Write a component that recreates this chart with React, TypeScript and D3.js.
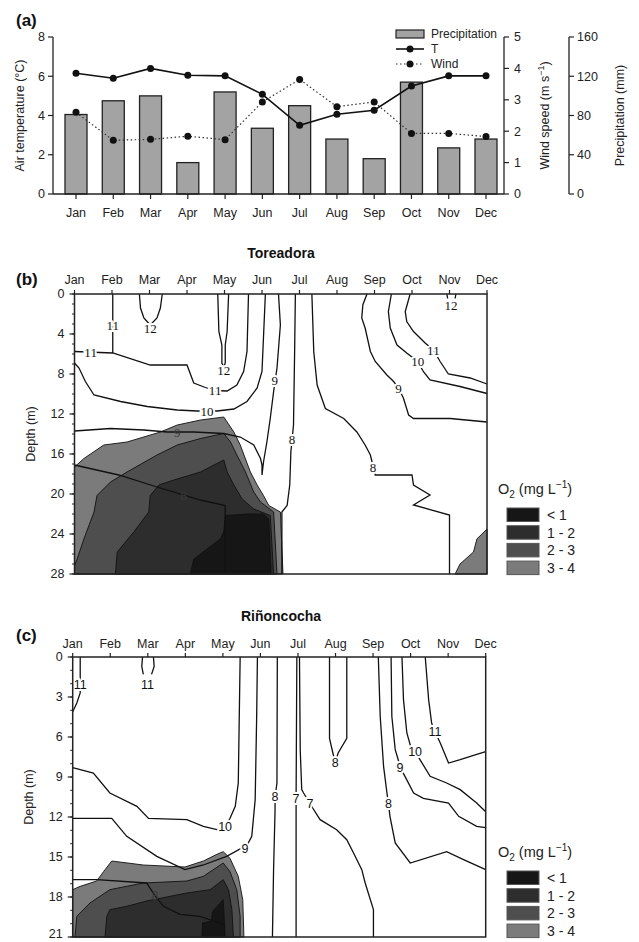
import React from 'react';
import * as d3 from 'd3';

type Pt = [number, number];

// ---- panel (a) data ----
const months = ['Jan', 'Feb', 'Mar', 'Apr', 'May', 'Jun', 'Jul', 'Aug', 'Sep', 'Oct', 'Nov', 'Dec'];
const precipitation = [81, 95, 100, 32, 104, 67, 90, 56, 36, 114, 47, 56];
const temperature = [6.15, 5.9, 6.4, 6.05, 6.02, 5.08, 3.5, 4.06, 4.27, 5.5, 6.02, 6.02];
const windSpeed = [2.6, 1.71, 1.74, 1.84, 1.73, 2.93, 3.65, 2.78, 2.93, 1.93, 1.93, 1.83];
const tempTicks = [0, 2, 4, 6, 8];
const windTicks = [0, 1, 2, 3, 4, 5];
const precipTicks = [0, 40, 80, 120, 160];

// ---- O2 classes ----
const o2Classes = ['< 1', '1 - 2', '2 - 3', '3 - 4'];
const o2Colors = ['#161616', '#2d2d2d', '#4e4e4e', '#7b7b7b'];

// ---- panel (b) Toreadora: [month index, depth m] ----
const toreDepthTicks = [0, 4, 8, 12, 16, 20, 24, 28];
const toreFill34: Pt[] = [[0, 17.3], [0.25, 16.45], [0.78, 15.1], [1.4, 14.8], [2.29, 13.8], [2.74, 13.1], [3.36, 12.6], [3.98, 12.3], [4.25, 13.8], [4.42, 15.1], [4.69, 17.8], [4.87, 19.1], [5.04, 20.15], [5.18, 21.15], [5.49, 21.8], [5.56, 28], [0, 28]];
const toreFill23: Pt[] = [[0, 28], [0, 27.2], [0.07, 26.5], [0.25, 24.5], [0.52, 21.8], [0.6, 20.15], [0.96, 18.8], [1.4, 17.8], [2.2, 16.1], [2.74, 15.1], [3.36, 14.45], [3.98, 13.95], [4.16, 14.8], [4.33, 16.1], [4.56, 17.8], [4.78, 19.8], [4.96, 20.8], [5.31, 21.8], [5.4, 28]];
const toreFill12: Pt[] = [[1.09, 28], [1.14, 25.8], [1.58, 23.8], [1.98, 21.8], [2.02, 20.15], [2.25, 19.1], [2.65, 18.6], [3.36, 17.8], [3.98, 16.6], [4.07, 17.8], [4.25, 19.1], [4.47, 20.5], [4.78, 21.5], [5.22, 22.15], [5.31, 28]];
const toreFill01: Pt[] = [[3.09, 28], [3.18, 26.5], [3.53, 25.5], [3.89, 24.5], [3.98, 23.8], [4.02, 22.15], [4.6, 22.0], [5.04, 22.0], [5.18, 22.5], [5.24, 28]];
const toreFillDec: Pt[] = [[10.15, 28], [10.28, 27.0], [10.64, 25.8], [10.73, 24.5], [11, 23.5], [11, 28]];

const toreIso11a: Pt[] = [[1.02, 0], [1.02, 5.9]];
const toreIso11b: Pt[] = [[0, 5.75], [1.02, 5.9], [2.02, 7.1], [3.0, 7.1], [3.18, 8.9], [3.49, 9.35], [3.75, 9.65], [4.07, 9.7], [4.33, 9.1], [4.51, 7.75], [4.6, 5.75], [4.64, 0]];
const toreIso12mar: Pt[] = [[1.73, 0], [1.76, 1.4], [1.85, 2.4], [2.02, 3.1], [2.2, 2.4], [2.29, 1.4], [2.34, 0]];
const toreIso12may: Pt[] = [[3.82, 0], [3.85, 3.75], [3.93, 5.1], [3.93, 6.9], [3.98, 7.3], [4.02, 6.9], [4.02, 5.1], [4.07, 3.75], [4.11, 0]];
const toreIso10: Pt[] = [[0, 6.9], [0.12, 7.4], [0.29, 8.75], [0.52, 10.1], [1.23, 10.75], [1.94, 11.25], [2.74, 11.6], [3.27, 11.7], [3.8, 11.7], [4.25, 11.5], [4.6, 10.75], [4.87, 9.4], [5.0, 7.75], [5.09, 0]];
const toreIso9: Pt[] = [[0, 13.7], [0.96, 13.45], [1.85, 13.6], [2.47, 13.8], [3.18, 13.8], [3.98, 13.95], [4.42, 14.3], [4.78, 15.1], [4.96, 16.45], [5.0, 17.1], [5.0, 18.1], [5.04, 16.8], [5.13, 14.8], [5.22, 12.45], [5.31, 9.75], [5.4, 7.4], [5.49, 3.1], [5.44, 0]];
const toreIso8a: Pt[] = [[5.89, 0], [5.87, 5.75], [5.84, 13.1], [5.77, 15.8], [5.74, 19.1], [5.67, 21.15], [5.53, 21.8], [5.53, 28]];
const toreIso8b: Pt[] = [[6.33, 0], [6.38, 5.75], [6.47, 9.1], [6.69, 11.45], [7.18, 12.45], [7.53, 13.8], [7.75, 15.1], [7.89, 16.1], [8.02, 18.1], [9.0, 18.1], [9.04, 19.1], [9.48, 20.1], [9.04, 21.1], [10.0, 22.1], [10.0, 28]];
const toreIso8c: Pt[] = [[0, 17.1], [1.18, 18.1], [2.2, 19.3], [3.36, 20.6], [4.02, 21.15], [4.02, 28]];
const toreIso12novA: Pt[] = [[9.93, 0], [9.95, 0.45]];
const toreIso12novB: Pt[] = [[10.15, 0.45], [10.17, 0]];
const toreIso11r: Pt[] = [[8.95, 0], [8.82, 1.75], [8.86, 2.75], [9.04, 3.75], [9.35, 4.9], [9.57, 5.6], [9.75, 6.75], [9.97, 8.0], [10.55, 8.4], [11, 9.0]];
const toreIso10r: Pt[] = [[8.45, 0], [8.37, 1.75], [8.42, 3.4], [8.6, 5.1], [8.86, 5.9], [9.15, 6.75], [9.31, 7.8], [9.48, 8.6], [10.28, 9.25], [11, 9.95]];
const toreIso9r: Pt[] = [[7.8, 0], [7.69, 1.07], [7.66, 2.4], [7.75, 3.4], [7.89, 5.75], [8.02, 6.75], [8.33, 8.1], [8.51, 8.75], [8.64, 9.4], [8.77, 10.4], [8.91, 12.1], [9.04, 12.45], [10.02, 12.45], [11, 12.8]];

// label: [month, depth, text, halo]
const toreLabels: [number, number, string, boolean][] = [
  [1.02, 3.1, '11', true], [0.43, 5.85, '11', true], [3.75, 9.65, '11', true],
  [2.02, 3.4, '12', true], [3.98, 7.6, '12', true], [3.53, 11.7, '10', true],
  [2.74, 13.8, '9', false], [5.34, 8.6, '9', true], [5.8, 14.5, '8', true],
  [7.96, 17.3, '8', true], [2.91, 20.1, '8', false], [10.04, 1.1, '12', true],
  [9.57, 5.6, '11', true], [9.15, 6.75, '10', true], [8.64, 9.4, '9', true],
];

// ---- panel (c) Riñoncocha ----
const rinoDepthTicks = [0, 3, 6, 9, 12, 15, 18, 21];
const rinoFill34: Pt[] = [[0, 17.45], [0.2, 17.2], [0.64, 16.8], [0.82, 16.1], [1.04, 15.3], [1.88, 15.6], [2.99, 15.75], [3.48, 15.3], [3.84, 14.8], [4.01, 14.6], [4.19, 15.1], [4.41, 16.45], [4.53, 18.2], [4.56, 21], [0, 21]];
const rinoFill23: Pt[] = [[0.06, 21], [0.11, 19.45], [0.46, 18.45], [0.99, 17.45], [1.88, 16.95], [3.04, 16.8], [3.48, 16.45], [4.01, 15.45], [4.19, 16.1], [4.37, 17.45], [4.46, 19.45], [4.46, 21]];
const rinoFill12: Pt[] = [[0.86, 21], [0.91, 19.45], [0.99, 18.95], [1.44, 18.7], [1.97, 18.3], [3.04, 17.7], [3.66, 17.45], [4.01, 16.7], [4.15, 17.45], [4.24, 18.95], [4.28, 21]];
const rinoFill01: Pt[] = [[3.44, 21], [3.46, 19.95], [3.7, 19.8], [3.72, 19.1], [4.01, 18.2], [4.06, 21]];

const rinoIso11jan: Pt[] = [[0.2, 0], [0.2, 2.7], [0.11, 3.45], [0, 4.1]];
const rinoIso11marA: Pt[] = [[1.86, 0], [1.84, 0.7], [1.88, 1.3]];
const rinoIso11marB: Pt[] = [[2.15, 0], [2.17, 0.7], [2.1, 1.3]];
const rinoIso10: Pt[] = [[0, 8.3], [0.55, 8.7], [0.99, 10.2], [1.71, 11.2], [2.02, 12.1], [3.04, 12.2], [3.48, 12.7], [3.84, 12.95], [4.06, 12.75], [4.19, 12.1], [4.33, 11.2], [4.41, 9.45], [4.46, 0]];
const rinoIso9: Pt[] = [[0, 12.1], [1.04, 12.1], [1.44, 13.45], [2.24, 14.95], [2.99, 15.95], [3.48, 15.6], [4.1, 14.95], [4.46, 14.4], [4.59, 14.4], [4.77, 13.45], [4.86, 10.7], [4.9, 4.45], [4.92, 0]];
const rinoIso8: Pt[] = [[5.45, 0], [5.44, 9.45], [5.39, 10.5], [5.39, 11.45], [5.35, 15.95], [5.32, 21]];
const rinoIso7a: Pt[] = [[5.97, 0], [5.95, 10.6], [5.95, 21]];
const rinoIso7b: Pt[] = [[6.04, 0], [6.06, 6.95], [6.1, 9.95], [6.15, 10.2], [6.34, 11.1], [6.59, 12.2], [7.03, 12.95], [7.3, 13.7], [7.48, 14.7], [7.7, 15.95], [7.79, 16.95], [8.01, 18.95], [8.01, 21]];
const rinoIso8aug: Pt[] = [[6.84, 0], [6.84, 6.1], [6.93, 7.2], [6.99, 7.9], [7.07, 7.2], [7.3, 6.1], [7.3, 0]];
const rinoIso8r: Pt[] = [[8.14, 0], [8.19, 4.45], [8.28, 8.2], [8.37, 10.2], [8.41, 11.0], [8.45, 11.95], [8.59, 13.95], [8.99, 15.45], [9.96, 14.6], [10.41, 15.2], [11, 15.95]];
const rinoIso9r: Pt[] = [[8.48, 0], [8.5, 4.45], [8.59, 6.95], [8.68, 7.8], [8.72, 8.3], [8.85, 8.95], [9.08, 10.2], [9.34, 10.6], [10.01, 10.95], [10.28, 11.95], [10.76, 12.7], [11, 12.8]];
const rinoIso10r: Pt[] = [[8.77, 0], [8.81, 3.2], [8.9, 5.7], [8.99, 6.6], [9.12, 7.1], [9.25, 7.7], [9.52, 8.95], [9.96, 9.45], [10.32, 9.95], [10.76, 10.95], [11, 11.6]];
const rinoIso11r: Pt[] = [[9.39, 0], [9.48, 3.2], [9.56, 4.95], [9.65, 5.6], [9.79, 6.45], [10.01, 7.95], [10.32, 7.7], [10.76, 7.3], [11, 7.1]];
const rinoIso8c: Pt[] = [[0, 16.7], [0.64, 16.7], [1.97, 16.95], [2.19, 17.9], [2.42, 18.7], [2.86, 19.3], [3.39, 19.45], [4.06, 20.1]];

const rinoLabels: [number, number, string, boolean][] = [
  [0.2, 2.1, '11', true], [1.99, 2.1, '11', true], [4.06, 12.75, '10', true],
  [4.59, 14.4, '9', true], [5.39, 10.5, '8', true], [5.95, 10.6, '7', true],
  [6.32, 11.0, '7', true], [6.99, 7.95, '8', true], [8.41, 11.0, '8', true],
  [8.72, 8.3, '9', true], [9.12, 7.1, '10', true], [9.65, 5.6, '11', true],
  [2.19, 17.9, '8', false],
];

const sans = 'Liberation Sans, Arial, sans-serif';
const serif = 'Liberation Serif, Times New Roman, serif';

function ContourPanel({ x, y, depthTicks, depthMax, fills, lines, labels, labelFont, labelSize, monthY }: any) {
  const line = d3.line<Pt>().x(d => x(d[0])).y(d => y(d[1]));
  const x0 = x(0), x1 = x(11), y0 = y(0), y1 = y(depthMax);
  const minor = d3.range(0, depthMax + 1);
  const fillColor = (i: number) => (i >= 4 ? o2Colors[3] : o2Colors[3 - i]);
  return (
    <g>
      {fills.map((f: Pt[], i: number) => (
        <path key={'f' + i} d={line(f) + 'Z'} fill={fillColor(i)} stroke="#111" strokeWidth={0.9} />
      ))}
      {lines.map((l: Pt[], i: number) => (
        <path key={'l' + i} d={line(l)!} fill="none" stroke="#111" strokeWidth={1.3} />
      ))}
      {labels.filter((l: any) => l[3]).map((l: [number, number, string, boolean], i: number) => (
        <text key={'h' + i} x={x(l[0])} y={y(l[1])} dy="0.35em" textAnchor="middle"
          fontFamily={labelFont} fontSize={labelSize} fill="#fff" stroke="#fff" strokeWidth={4}>{l[2]}</text>
      ))}
      {labels.map((l: [number, number, string, boolean], i: number) => (
        <text key={'t' + i} x={x(l[0])} y={y(l[1])} dy="0.35em" textAnchor="middle"
          fontFamily={labelFont} fontSize={labelSize} fill={l[3] ? '#111' : '#3a3a3a'}>{l[2]}</text>
      ))}
      <rect x={x0} y={y0} width={x1 - x0} height={y1 - y0} fill="none" stroke="#222" strokeWidth={1.5} />
      {months.map((m, i) => (
        <g key={m}>
          <line x1={x(i)} x2={x(i)} y1={y0} y2={y0 - 4} stroke="#222" strokeWidth={1.2} />
          <text x={x(i)} y={y0 - monthY} textAnchor="middle" fontFamily={sans} fontSize={12.5} fill="#222">{m}</text>
        </g>
      ))}
      {minor.map(d => (
        <line key={'m' + d} x1={x0} x2={x0 - 2.5} y1={y(d)} y2={y(d)} stroke="#222" strokeWidth={1} />
      ))}
      {depthTicks.map((d: number) => (
        <g key={'d' + d}>
          <line x1={x0} x2={x0 - 5} y1={y(d)} y2={y(d)} stroke="#222" strokeWidth={1.2} />
          <text x={x0 - 10} y={Math.min(y(d), 934)} dy="0.35em" textAnchor="end" fontFamily={sans} fontSize={12.5} fill="#222">{d}</text>
        </g>
      ))}
      <text transform={`translate(${x0 - 40},${(y0 + y1) / 2}) rotate(-90)`} textAnchor="middle" fontFamily={sans} fontSize={12.5} fill="#222">Depth (m)</text>
    </g>
  );
}

function O2Legend({ x, y }: { x: number; y: number }) {
  return (
    <g fontFamily={sans} fill="#222">
      <text x={x} y={y} fontSize={14.5}>O<tspan dy={4} fontSize={10}>2</tspan><tspan dy={-4}> (mg L</tspan><tspan dy={-6} fontSize={10}>−1</tspan><tspan dy={6}>)</tspan></text>
      {o2Classes.map((c, i) => (
        <g key={c}>
          <rect x={x + 9} y={y + 14 + i * 17.7} width={32} height={13.5} fill={o2Colors[i]} stroke="#555" strokeWidth={1} />
          <text x={x + 49} y={y + 26 + i * 17.7} fontSize={14}>{c}</text>
        </g>
      ))}
    </g>
  );
}

export default function App() {
  const xA = d3.scaleLinear().domain([0, 11]).range([76, 486]);
  const yT = d3.scaleLinear().domain([0, 8]).range([194, 37]);
  const yW = d3.scaleLinear().domain([0, 5]).range([194, 37]);
  const yP = d3.scaleLinear().domain([0, 160]).range([194, 37]);
  const tLine = d3.line<number>().x((_, i) => xA(i)).y(d => yT(d));
  const wLine = d3.line<number>().x((_, i) => xA(i)).y(d => yW(d));
  const left = 53, right = 504, precipAxis = 569, base = yT(0);

  const xB = d3.scaleLinear().domain([0, 11]).range([74.5, 487]);
  const yB = d3.scaleLinear().domain([0, 28]).range([294, 574]);
  const xC = d3.scaleLinear().domain([0, 11]).range([72.7, 485.7]);
  const yC = d3.scaleLinear().domain([0, 21]).range([657, 937]);

  return (
    <svg width={639} height={942} style={{ position: 'absolute', left: 0, top: 0, background: '#fff' }}>
      {/* panel a */}
      <text x={16} y={26} fontFamily={sans} fontWeight="bold" fontSize={17} fill="#111">(a)</text>
      {precipitation.map((p, i) => (
        <rect key={i} x={xA(i) - 11} y={yP(p)} width={22} height={base - yP(p)} fill="#a3a3a3" stroke="#222" strokeWidth={1.3} />
      ))}
      <path d={wLine(windSpeed)!} fill="none" stroke="#333" strokeWidth={1.2} strokeDasharray="1.5,2.5" />
      <path d={tLine(temperature)!} fill="none" stroke="#111" strokeWidth={1.6} />
      {windSpeed.map((w, i) => <circle key={'w' + i} cx={xA(i)} cy={yW(w)} r={3.5} fill="#111" />)}
      {temperature.map((t, i) => <circle key={'t' + i} cx={xA(i)} cy={yT(t)} r={3.5} fill="#111" />)}
      <line x1={left} x2={left} y1={yT(8)} y2={base} stroke="#222" strokeWidth={1.3} />
      <line x1={left} x2={right} y1={base} y2={base} stroke="#222" strokeWidth={1.3} />
      <line x1={right} x2={right} y1={yW(5)} y2={base} stroke="#222" strokeWidth={1.3} />
      <line x1={precipAxis} x2={precipAxis} y1={yP(160)} y2={base} stroke="#222" strokeWidth={1.3} />
      {tempTicks.map(t => (
        <g key={'tt' + t}>
          <line x1={left} x2={left - 5} y1={yT(t)} y2={yT(t)} stroke="#222" strokeWidth={1.2} />
          <text x={left - 8} y={yT(t)} dy="0.35em" textAnchor="end" fontFamily={sans} fontSize={12.5} fill="#222">{t}</text>
        </g>
      ))}
      {windTicks.map(t => (
        <g key={'wt' + t}>
          <line x1={right} x2={right + 5} y1={yW(t)} y2={yW(t)} stroke="#222" strokeWidth={1.2} />
          <text x={right + 10} y={yW(t)} dy="0.35em" fontFamily={sans} fontSize={12.5} fill="#222">{t}</text>
        </g>
      ))}
      {precipTicks.map(t => (
        <g key={'pt' + t}>
          <line x1={precipAxis} x2={precipAxis + 5} y1={yP(t)} y2={yP(t)} stroke="#222" strokeWidth={1.2} />
          <text x={precipAxis + 8} y={yP(t)} dy="0.35em" fontFamily={sans} fontSize={12.5} fill="#222">{t}</text>
        </g>
      ))}
      {months.map((m, i) => (
        <g key={'ma' + m}>
          <line x1={xA(i)} x2={xA(i)} y1={base} y2={base + 5} stroke="#222" strokeWidth={1.2} />
          <text x={xA(i)} y={base + 23} textAnchor="middle" fontFamily={sans} fontSize={12.5} fill="#222">{m}</text>
        </g>
      ))}
      <text transform={`translate(24,${(base + yT(8)) / 2}) rotate(-90)`} textAnchor="middle" fontFamily={sans} fontSize={12.5} fill="#222">Air temperature (°C)</text>
      <text transform={`translate(549,${(base + yT(8)) / 2}) rotate(-90)`} textAnchor="middle" fontFamily={sans} fontSize={12.5} fill="#222">Wind speed (m s<tspan dy={-5} fontSize={9}>−1</tspan><tspan dy={5}>)</tspan></text>
      <text transform={`translate(624,${(base + yT(8)) / 2}) rotate(-90)`} textAnchor="middle" fontFamily={sans} fontSize={12.5} fill="#222">Precipitation (mm)</text>
      <g fontFamily={sans} fontSize={12} fill="#222">
        <rect x={396} y={30} width={28} height={8} fill="#a3a3a3" stroke="#222" strokeWidth={1.2} />
        <text x={431} y={38}>Precipitation</text>
        <line x1={396} x2={424} y1={49} y2={49} stroke="#111" strokeWidth={1.6} />
        <circle cx={410} cy={49} r={3.5} fill="#111" />
        <text x={431} y={53}>T</text>
        <line x1={396} x2={424} y1={64} y2={64} stroke="#333" strokeWidth={1.2} strokeDasharray="1.5,2.5" />
        <circle cx={410} cy={64} r={3.5} fill="#111" />
        <text x={431} y={68}>Wind</text>
      </g>

      {/* panel b */}
      <text x={281} y={258} textAnchor="middle" fontFamily={sans} fontWeight="bold" fontSize={14} fill="#111">Toreadora</text>
      <text x={16} y={285} fontFamily={sans} fontWeight="bold" fontSize={17} fill="#111">(b)</text>
      <ContourPanel x={xB} y={yB} depthTicks={toreDepthTicks} depthMax={28} monthY={10}
        fills={[toreFill34, toreFill23, toreFill12, toreFill01, toreFillDec]}
        lines={[toreIso11a, toreIso11b, toreIso12mar, toreIso12may, toreIso10, toreIso9, toreIso8a, toreIso8b, toreIso8c, toreIso12novA, toreIso12novB, toreIso11r, toreIso10r, toreIso9r]}
        labels={toreLabels} labelFont={serif} labelSize={13} />
      <O2Legend x={498} y={494} />

      {/* panel c */}
      <text x={281} y={621} textAnchor="middle" fontFamily={sans} fontWeight="bold" fontSize={14} fill="#111">Riñoncocha</text>
      <text x={16} y={641} fontFamily={sans} fontWeight="bold" fontSize={17} fill="#111">(c)</text>
      <ContourPanel x={xC} y={yC} depthTicks={rinoDepthTicks} depthMax={21} monthY={9}
        fills={[rinoFill34, rinoFill23, rinoFill12, rinoFill01]}
        lines={[rinoIso11jan, rinoIso11marA, rinoIso11marB, rinoIso10, rinoIso9, rinoIso8, rinoIso7a, rinoIso7b, rinoIso8aug, rinoIso8r, rinoIso9r, rinoIso10r, rinoIso11r, rinoIso8c]}
        labels={rinoLabels} labelFont={sans} labelSize={12.5} />
      <O2Legend x={498} y={857} />
    </svg>
  );
}
